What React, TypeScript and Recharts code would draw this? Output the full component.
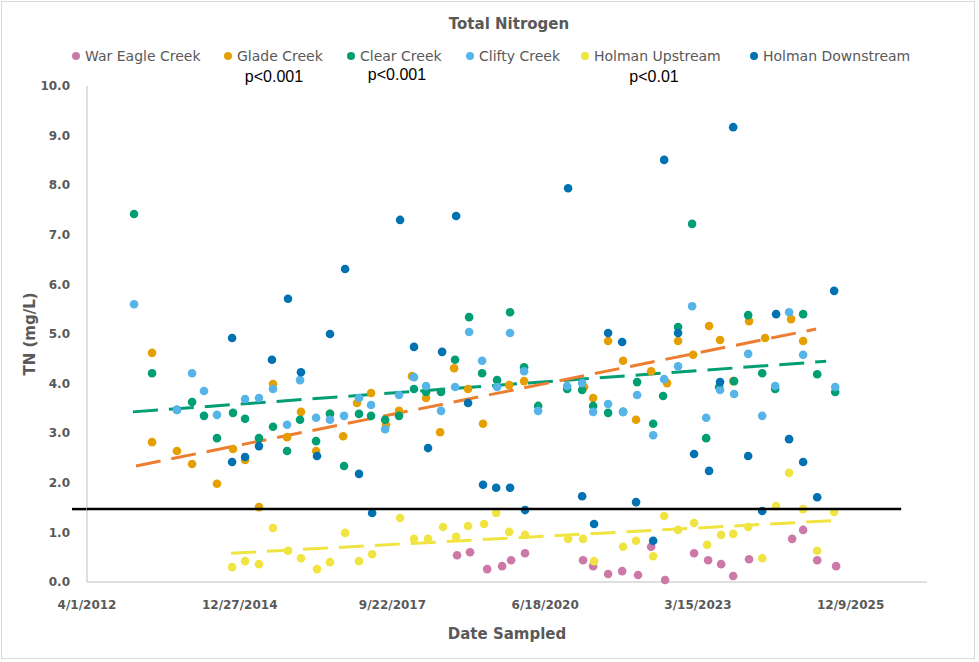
import React from 'react';
import { ScatterChart, Scatter, XAxis, YAxis, ReferenceLine, Label } from 'recharts';

// ---------- data (Excel serial dates, TN mg/L) ----------
const xTicks = [41000, 42000, 43000, 44000, 45000, 46000];
const yTicks = [0, 1, 2, 3, 4, 5, 6, 7, 8, 9, 10];

const warEagleDates = [43423, 43508, 43620, 43718, 43777, 43868, 44248, 44314, 44412, 44504, 44608, 44694, 44785, 44975, 45067, 45152, 45231, 45335, 45617, 45689, 45781, 45905];
const warEagleTN = [0.54, 0.60, 0.26, 0.32, 0.44, 0.58, 0.44, 0.32, 0.16, 0.22, 0.14, 0.71, 0.04, 0.58, 0.44, 0.36, 0.12, 0.46, 0.87, 1.05, 0.44, 0.32];

const gladeDates = [41426, 41426, 41589, 41688, 41851, 41956, 42035, 42126, 42218, 42310, 42401, 42500, 42591, 42677, 42768, 42860, 42958, 43043, 43128, 43220, 43312, 43404, 43495, 43593, 43764, 43862, 44255, 44314, 44412, 44510, 44595, 44694, 44798, 44870, 44969, 45073, 45145, 45231, 45335, 45440, 45610, 45689];
const gladeTN = [4.62, 2.82, 2.64, 2.38, 1.98, 2.68, 2.46, 1.51, 3.99, 2.92, 3.43, 2.64, 3.39, 2.94, 3.61, 3.81, 3.17, 3.45, 4.15, 3.71, 3.02, 4.31, 3.89, 3.19, 3.97, 4.05, 3.93, 3.71, 4.86, 4.46, 3.27, 4.25, 4.01, 4.86, 4.58, 5.16, 4.88, 4.05, 5.26, 4.92, 5.30, 4.86];

const clearDates = [41308, 41426, 41589, 41688, 41766, 41851, 41956, 42035, 42126, 42218, 42310, 42395, 42500, 42591, 42683, 42781, 42860, 42952, 43043, 43141, 43220, 43318, 43410, 43502, 43587, 43685, 43770, 43862, 43954, 44144, 44242, 44314, 44412, 44510, 44602, 44707, 44772, 44870, 44962, 45054, 45139, 45237, 45329, 45421, 45506, 45689, 45781, 45899];
const clearTN = [7.42, 4.21, 3.47, 3.63, 3.35, 2.90, 3.41, 3.29, 2.90, 3.13, 2.64, 3.27, 2.84, 3.39, 2.34, 3.39, 3.35, 3.27, 3.35, 3.89, 3.83, 3.83, 4.48, 5.34, 4.21, 4.07, 5.44, 4.33, 3.55, 3.89, 3.87, 3.55, 3.41, 3.43, 4.03, 3.19, 3.75, 5.14, 7.22, 2.90, 3.93, 4.05, 5.38, 4.21, 3.89, 5.40, 4.19, 3.83];

const cliftyDates = [41308, 41589, 41688, 41766, 41851, 42035, 42126, 42218, 42310, 42395, 42500, 42591, 42683, 42781, 42860, 42952, 43043, 43141, 43220, 43318, 43410, 43502, 43587, 43685, 43770, 43862, 43954, 44144, 44242, 44314, 44412, 44510, 44602, 44707, 44779, 44870, 44962, 45054, 45145, 45237, 45329, 45421, 45506, 45597, 45689, 45899];
const cliftyTN = [5.60, 3.47, 4.21, 3.85, 3.37, 3.69, 3.71, 3.89, 3.17, 4.07, 3.31, 3.27, 3.35, 3.71, 3.57, 3.08, 3.77, 4.13, 3.95, 3.45, 3.93, 5.04, 4.46, 3.93, 5.02, 4.25, 3.45, 3.95, 4.01, 3.43, 3.59, 3.43, 3.77, 2.96, 4.09, 4.35, 5.56, 3.31, 3.87, 3.79, 4.60, 3.35, 3.95, 5.44, 4.58, 3.93];

const holmanUpDates = [41950, 42035, 42126, 42218, 42316, 42401, 42506, 42591, 42690, 42781, 42867, 43050, 43141, 43233, 43331, 43417, 43495, 43600, 43679, 43764, 43868, 44150, 44248, 44320, 44510, 44595, 44707, 44779, 44870, 44975, 45060, 45152, 45231, 45329, 45421, 45512, 45597, 45689, 45781, 45892];
const holmanUpTN = [0.30, 0.42, 0.36, 1.09, 0.63, 0.48, 0.26, 0.40, 0.99, 0.42, 0.56, 1.29, 0.87, 0.87, 1.11, 0.91, 1.13, 1.17, 1.39, 1.01, 0.95, 0.87, 0.87, 0.42, 0.71, 0.83, 0.52, 1.33, 1.05, 1.19, 0.75, 0.95, 0.97, 1.11, 0.48, 1.53, 2.20, 1.47, 0.63, 1.41];

const holmanDownDates = [41950, 41950, 42035, 42126, 42211, 42316, 42401, 42506, 42591, 42690, 42781, 42867, 43050, 43141, 43233, 43325, 43417, 43495, 43593, 43679, 43770, 43868, 44150, 44242, 44320, 44412, 44504, 44595, 44707, 44779, 44870, 44975, 45073, 45145, 45231, 45329, 45421, 45512, 45597, 45689, 45781, 45892];
const holmanDownTN = [4.92, 2.42, 2.52, 2.74, 4.48, 5.71, 4.23, 2.54, 5.00, 6.31, 2.18, 1.39, 7.30, 4.74, 2.70, 4.64, 7.38, 3.61, 1.96, 1.90, 1.90, 1.45, 7.94, 1.73, 1.17, 5.02, 4.84, 1.61, 0.83, 8.51, 5.02, 2.58, 2.24, 4.03, 9.17, 2.54, 1.43, 5.40, 2.88, 2.42, 1.71, 5.87];

// trendline end points (date, TN)
const clearTrendDates = [41301, 45840];
const clearTrendTN = [3.43, 4.45];
const gladeTrendDates = [41321, 45774];
const gladeTrendTN = [2.34, 5.10];
const holmanUpTrendDates = [41943, 45899];
const holmanUpTrendTN = [0.58, 1.24];
// 1.5 mg/L reference line (begins slightly left of the value axis)
const thresholdDates = [40902, 41000, 46331];
const thresholdTN = [1.47, 1.47, 1.47];

const seriesNames = ['War Eagle Creek', 'Glade Creek', 'Clear Creek', 'Clifty Creek', 'Holman Upstream', 'Holman Downstream'];
const pValueTexts = ['p<0.001', 'p<0.001', 'p<0.01'];

// ---------- styles / layout ----------
const FONT = '"DejaVu Sans", sans-serif';
const TEXT = '#595959';
const seriesColors = ['#CC79A7', '#E69F00', '#009E73', '#56B4E9', '#F0E442', '#0072B2'];
const legendX = [76, 228, 351, 470, 585, 754];
const pValueX = [274, 397, 654];
const pValueY = [77, 75, 77];

const zip = (xs: number[], ys: number[]) => xs.map((x, i) => ({ x, y: ys[i] }));
const thresholdPts = zip(thresholdDates, thresholdTN);

const fmtDate = (serial: number) => {
  const d = new Date(Date.UTC(1899, 11, 30) + serial * 86400000);
  return `${d.getUTCMonth() + 1}/${d.getUTCDate()}/${d.getUTCFullYear()}`;
};

const dot = (color: string) => (props: any) => {
  if (props.cx == null || props.cy == null) return <g />;
  return <circle cx={props.cx} cy={props.cy} r={4.3} fill={color} />;
};
const noDot = () => <g />;

const seriesData = [
  zip(warEagleDates, warEagleTN),
  zip(gladeDates, gladeTN),
  zip(clearDates, clearTN),
  zip(cliftyDates, cliftyTN),
  zip(holmanUpDates, holmanUpTN),
  zip(holmanDownDates, holmanDownTN),
];

const trendStyle = { strokeWidth: 3, strokeDasharray: '25 11' };

export default function App() {
  return (
    <div style={{ position: 'absolute', left: 0, top: 0, width: 979, height: 662, background: '#fff', fontFamily: FONT }}>
      <div style={{ position: 'absolute', left: 1, top: 1, width: 972, height: 656, border: '1px solid #d9d9d9' }} />
      <div style={{ position: 'absolute', left: 509, top: 24, transform: 'translate(-50%, -50%)', fontSize: 15, fontWeight: 'bold', color: TEXT, whiteSpace: 'nowrap' }}>
        Total Nitrogen
      </div>
      {seriesNames.map((name, i) => (
        <div key={name}>
          <div style={{ position: 'absolute', left: legendX[i] - 4, top: 52, width: 8, height: 8, borderRadius: 4, background: seriesColors[i] }} />
          <div style={{ position: 'absolute', left: legendX[i] + 9, top: 56, transform: 'translateY(-50%)', fontSize: 14, color: TEXT, whiteSpace: 'nowrap' }}>
            {name}
          </div>
        </div>
      ))}
      {pValueTexts.map((t, i) => (
        <div key={i} style={{ position: 'absolute', left: pValueX[i], top: pValueY[i], transform: 'translate(-50%, -50%)', fontSize: 16, fontFamily: '"Liberation Sans", sans-serif', color: '#000', whiteSpace: 'nowrap' }}>
          {t}
        </div>
      ))}
      <div style={{ position: 'absolute', left: 0, top: 0 }}>
        <ScatterChart width={979} height={662} margin={{ top: 86, right: 52, bottom: 20, left: 27 }}>
          <XAxis
            type="number"
            dataKey="x"
            domain={[41000, 46500]}
            ticks={xTicks}
            tickFormatter={fmtDate}
            axisLine={{ stroke: '#bfbfbf' }}
            tickLine={false}
            tickSize={9}
            tickMargin={9}
            height={60}
            tick={{ fill: TEXT, fontSize: 12, fontWeight: 'bold', fontFamily: FONT }}
          >
            <Label value="Date Sampled" position="insideBottom" offset={3} style={{ fill: TEXT, fontSize: 15, fontWeight: 'bold', fontFamily: FONT }} />
          </XAxis>
          <YAxis
            type="number"
            dataKey="y"
            domain={[0, 10]}
            ticks={yTicks}
            tickFormatter={(v: number) => v.toFixed(1)}
            axisLine={{ stroke: '#bfbfbf' }}
            tickLine={false}
            tickSize={8}
            tickMargin={9}
            width={60}
            tick={{ fill: TEXT, fontSize: 12, fontWeight: 'bold', fontFamily: FONT }}
          >
            <Label value="TN (mg/L)" angle={-90} position="insideLeft" offset={3} style={{ textAnchor: 'middle', fill: TEXT, fontSize: 15, fontWeight: 'bold', fontFamily: FONT }} />
          </YAxis>
          {seriesData.map((data, i) => (
            <Scatter key={seriesNames[i]} name={seriesNames[i]} data={data} shape={dot(seriesColors[i])} isAnimationActive={false} />
          ))}
          <ReferenceLine segment={zip(clearTrendDates, clearTrendTN)} stroke="#009E73" {...trendStyle} />
          <ReferenceLine segment={zip(gladeTrendDates, gladeTrendTN)} stroke="#ED7D31" {...trendStyle} />
          <ReferenceLine segment={zip(holmanUpTrendDates, holmanUpTrendTN)} stroke="#F0E442" {...trendStyle} />
          <Scatter
            name="1.5 mg/L"
            data={[thresholdPts[1], thresholdPts[2]]}
            line={{ stroke: '#000', strokeWidth: 2.5 }}
            lineType="joint"
            shape={noDot}
            legendType="none"
            isAnimationActive={false}
          />
          <ReferenceLine segment={[thresholdPts[0], thresholdPts[1]]} stroke="#000" strokeWidth={2.5} ifOverflow="visible" />
        </ScatterChart>
      </div>
    </div>
  );
}
